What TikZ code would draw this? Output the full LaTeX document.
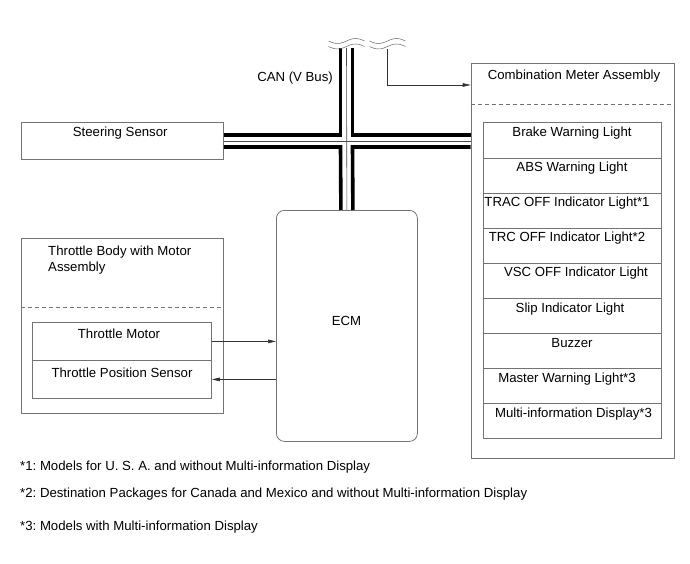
\documentclass[tikz,border=0pt]{standalone}
\usepackage{fontspec}
\setmainfont{Liberation Sans}
\usetikzlibrary{arrows.meta,calc}
\frenchspacing
\begin{document}
\begin{tikzpicture}[x=1pt,y=-1pt,
  box/.style={draw=black!55, line width=0.8pt, inner sep=0pt, anchor=north west},
  txt/.style={font=\fontsize{13.2}{15}\selectfont, inner sep=0pt, anchor=base},
  ltxt/.style={txt, anchor=base west},
  sepline/.style={draw=black!55, line width=0.7pt, dash pattern=on 4pt off 3pt},
  wire/.style={line width=3.6pt, line join=miter, line cap=butt},
  midwire/.style={line width=0.6pt, draw=black!70},
  sig/.style={line width=0.7pt, draw=black!80, -{Triangle[length=8pt,width=3.6pt]}},
  wave/.style={line width=0.5pt, draw=black!60}
]
\useasboundingbox (0,0) rectangle (690,564);

% boxes
\node[box, minimum width=202.3pt, minimum height=37pt] (ss) at (20.7,122) {};
\node[txt] at ($(ss.north)+(-2,14.7)$) {Steering Sensor};

\node[box, minimum width=202.3pt, minimum height=175pt] (tb) at (20.7,238) {};
\draw[sepline] (20.7,307) -- (223,307);
\node[ltxt] at (48,255) {Throttle Body with Motor};
\node[ltxt] at (48,271) {Assembly};
\node[box, minimum width=179pt, minimum height=38pt] (tm) at (32,322) {};
\node[box, minimum width=179pt, minimum height=38pt] (tps) at (32,360) {};
\node[txt] at (119,338) {Throttle Motor};
\node[txt] at (122,377) {Throttle Position Sensor};

\node[box, rounded corners=8pt, minimum width=141pt, minimum height=231pt] (ecm) at (276,210) {};
\node[txt] at (346.5,325) {ECM};

\node[box, minimum width=202.8pt, minimum height=394.4pt] (cm) at (470.7,63.3) {};
\draw[sepline] (cm.west |- 0,104) -- (cm.east |- 0,104);
\node[txt] at (574,80) {Combination Meter Assembly};

\foreach \i/\cx/\t in {1/572/Brake Warning Light,
                       2/572/ABS Warning Light,
                       3/567/TRAC OFF Indicator Light*1,
                       4/567/TRC OFF Indicator Light*2,
                       5/576/VSC OFF Indicator Light,
                       6/570/Slip Indicator Light,
                       7/572/Buzzer,
                       8/567/Master Warning Light*3,
                       9/573.5/Multi-information Display*3}{
  \node[box, minimum width=178pt, minimum height=35.1pt] (r\i) at (482.7,{122.5+35.1*(\i-1)}) {};
  \node[txt] (t\i) at (\cx,{136.5+35.1*(\i-1)}) {\t};
}

% CAN bus
\coordinate (bc) at (346.5,141);
\coordinate (btop) at (346.5,48);
\node[txt, anchor=base east] (can) at (333,82) {CAN (V Bus)};
\draw[wire] ($(btop)+(-6,0)$) -- ($(bc)+(-6,-6)$) -- ($(bc -| ss.east)+(0,-6)$);
\draw[wire] ($(btop)+(6,0)$) -- ($(bc)+(6,-6)$) -- ($(bc -| cm.west)+(0,-6)$);
\draw[wire] ($(bc -| ss.east)+(0,6)$) -- ($(bc)+(-6,6)$) -- ($(ecm.north)+(-6,0)$);
\draw[wire] ($(bc -| cm.west)+(0,6)$) -- ($(bc)+(6,6)$) -- ($(ecm.north)+(6,0)$);
\draw[midwire] (btop) -- (ecm.north);
\draw[midwire] (bc -| ss.east) -- (bc -| cm.west);

% break marks
\foreach \cx in {346.5,387.5}
  \foreach \cy in {41,46.5}
    \draw[wave] plot[domain=-18:18,samples=37,smooth] ({\cx+\x},{\cy-2.5*sin(\x*10)});

% line to combination meter
\coordinate (tap) at (387.5,49);
\draw[sig] (tap) |- ($(cm.north west)+(0,21.7)$);

% throttle signals
\draw[sig] (tm.east) -- (tm.east -| ecm.west);
\draw[sig] (tps.east -| ecm.west) -- (tps.east);

% footnotes
\node[ltxt] (f1) at (20,470.5) {*1: Models for U. S. A. and without Multi-information Display};
\node[ltxt] (f2) at (20,497.5) {*2: Destination Packages for Canada and Mexico and without Multi-information Display};
\node[ltxt] (f3) at (20,530.5) {*3: Models with Multi-information Display};
\end{tikzpicture}
\end{document}
